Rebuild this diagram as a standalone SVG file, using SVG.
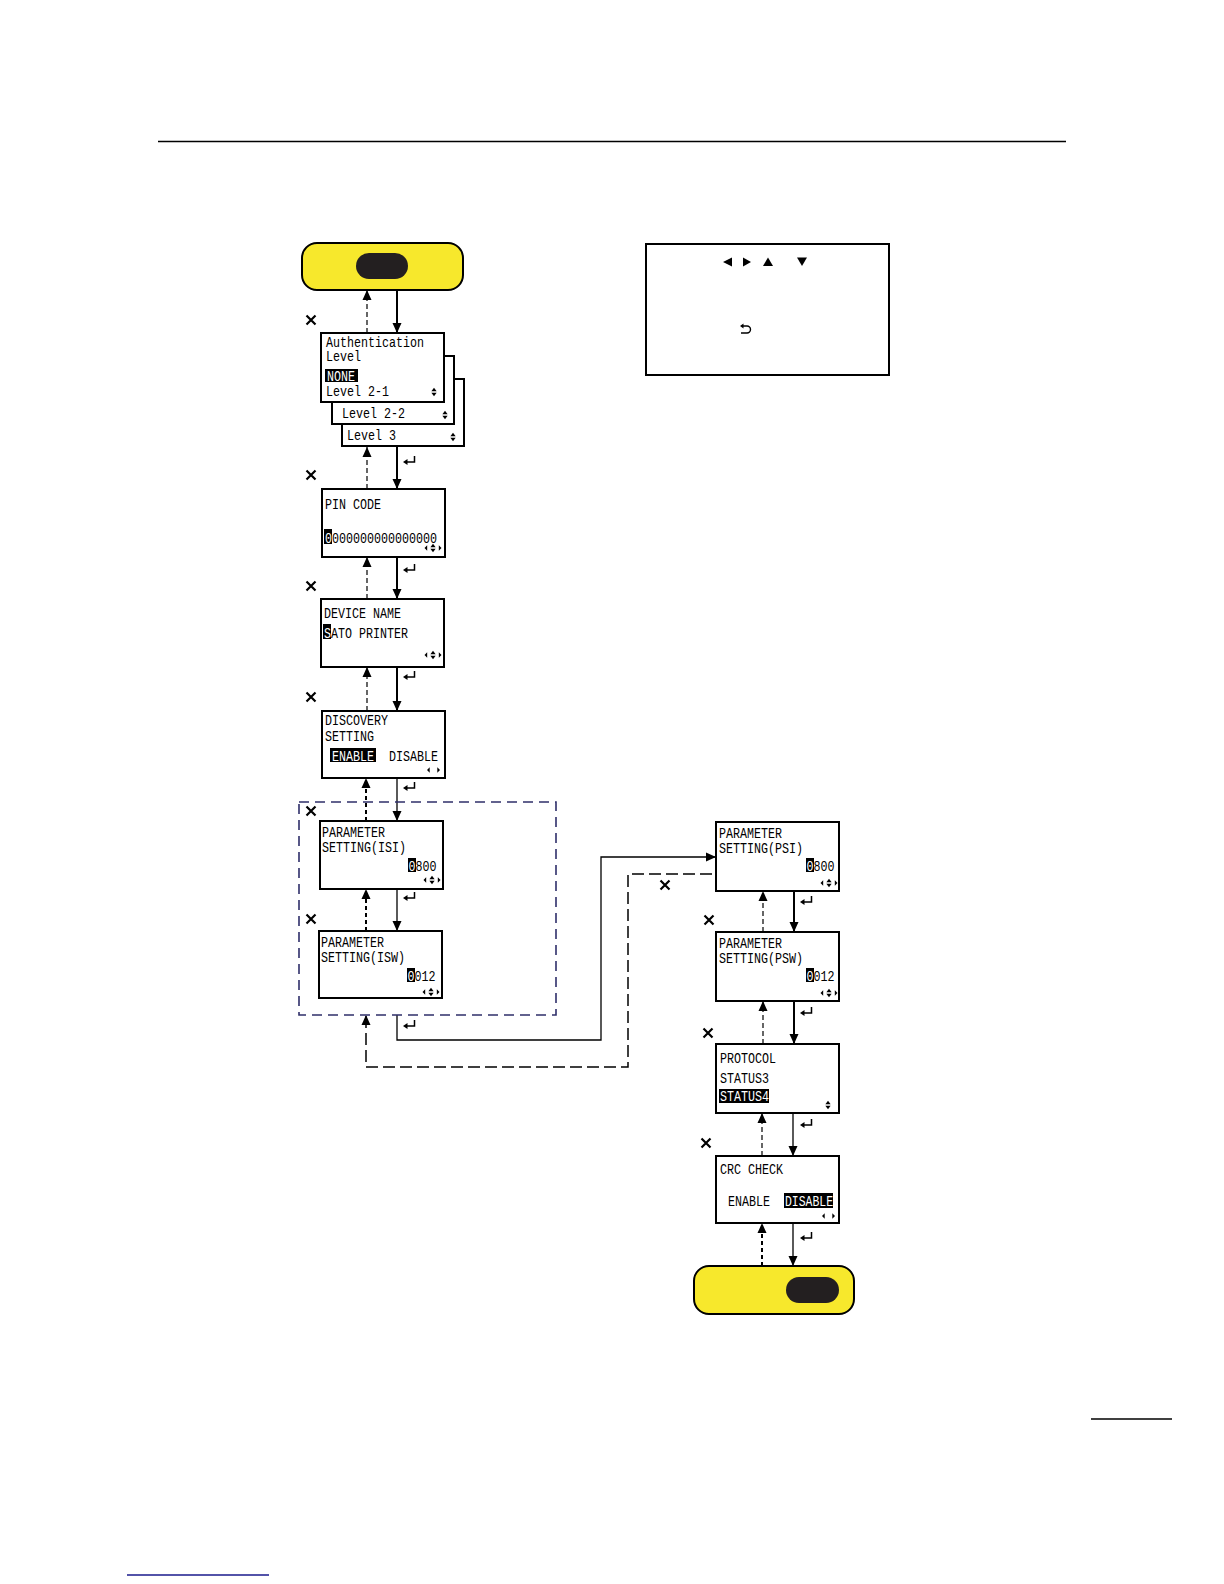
<svg xmlns="http://www.w3.org/2000/svg" width="1224" height="1584" viewBox="0 0 1224 1584">
<style>
.box{fill:#fff;stroke:#000;stroke-width:2}
.lcd{font-family:"Liberation Mono","DejaVu Sans Mono",monospace;font-size:14px;fill:#000}
.inv{fill:#fff}
.yel{fill:#f7e82c;stroke:#000;stroke-width:2}
.pill{fill:#231f20}
.solid{fill:none;stroke:#000;stroke-width:2}
.thin{fill:none;stroke:#000;stroke-width:1.3}
.dash{fill:none;stroke:#000;stroke-width:1.2;stroke-dasharray:5 3}
.bdash{fill:none;stroke:#000;stroke-width:2;stroke-dasharray:4 3}
.ldash{fill:none;stroke:#000;stroke-width:1.5;stroke-dasharray:12 5}
.grp{fill:none;stroke:#2f2f6a;stroke-width:1.6;stroke-dasharray:10 6}
.rule{stroke:#000;stroke-width:1.3}
</style>
<defs>
<marker id="ah" viewBox="0 0 10 10" refX="10" refY="5" markerWidth="10" markerHeight="10" markerUnits="userSpaceOnUse" orient="auto"><path d="M0,0.5 L10,5 L0,9.5 z" fill="#000"/></marker>
<g id="ret"><path d="M11.5,-6 V0 H3" fill="none" stroke="#000" stroke-width="1.5"/><polygon points="0,0 4.5,-3 4.5,3" fill="#000"/></g>
<g id="xm"><path d="M-4.5,-4.5 L4.5,4.5 M4.5,-4.5 L-4.5,4.5" stroke="#000" stroke-width="2.2"/></g>
<g id="ud"><polygon points="-2.6,-0.8 0,-4.2 2.6,-0.8"/><polygon points="-2.6,0.8 0,4.2 2.6,0.8"/></g>
<g id="lud"><polygon points="-8.5,0 -5.8,-2.8 -5.8,2.8"/><use href="#ud"/><polygon points="8.5,0 5.8,-2.8 5.8,2.8"/></g>
<g id="lr"><polygon points="-6.5,0 -3.8,-2.8 -3.8,2.8"/><polygon points="6.5,0 3.8,-2.8 3.8,2.8"/></g>
</defs>

<line class="rule" x1="158" y1="141.5" x2="1066" y2="141.5"/>
<line class="rule" x1="1091" y1="1419" x2="1172" y2="1419"/>
<line x1="127" y1="1575" x2="269" y2="1575" stroke="#1a1a8c" stroke-width="1.3"/>

<g id="legend">
<rect class="box" x="646" y="244" width="243" height="131"/>
<polygon points="723,262 732,257.5 732,266.5"/>
<polygon points="751,262 743,257.5 743,266.5"/>
<polygon points="768,257.5 763,266 773,266"/>
<polygon points="797,257.5 807,257.5 802,266"/>
<path d="M743,326 H747 A3.5,3.5 0 0 1 747,333 H741" fill="none" stroke="#000" stroke-width="1.4"/>
<polygon points="740,326 743.5,323.6 743.5,328.4"/>
</g>

<g id="connectors">
<path class="solid" d="M397,290 V333" marker-end="url(#ah)"/>
<path class="dash" d="M367,333 V290" marker-end="url(#ah)"/>
<path class="solid" d="M397,447 V489" marker-end="url(#ah)"/>
<path class="dash" d="M367,489 V447" marker-end="url(#ah)"/>
<path class="solid" d="M397,557 V599" marker-end="url(#ah)"/>
<path class="dash" d="M367,599 V557" marker-end="url(#ah)"/>
<path class="solid" d="M397,667 V711" marker-end="url(#ah)"/>
<path class="dash" d="M367,711 V667" marker-end="url(#ah)"/>
<path class="thin" d="M397,778 V821" marker-end="url(#ah)"/>
<path class="bdash" d="M366,821 V778" marker-end="url(#ah)"/>
<path class="thin" d="M397,889 V931" marker-end="url(#ah)"/>
<path class="bdash" d="M366,931 V889" marker-end="url(#ah)"/>
<path class="thin" d="M397,1015 V1040 H601 V857 H716" marker-end="url(#ah)"/>
<path class="ldash" d="M712,874 H628 V1067 H366 V1015" marker-end="url(#ah)"/>
<path class="solid" d="M794,891 V932" marker-end="url(#ah)"/>
<path class="dash" d="M763,932 V891" marker-end="url(#ah)"/>
<path class="solid" d="M794,1001 V1044" marker-end="url(#ah)"/>
<path class="dash" d="M763,1044 V1001" marker-end="url(#ah)"/>
<path class="thin" d="M793,1113 V1156" marker-end="url(#ah)"/>
<path class="dash" d="M762,1156 V1113" marker-end="url(#ah)"/>
<path class="thin" d="M793,1223 V1266" marker-end="url(#ah)"/>
<path class="bdash" d="M762,1266 V1223" marker-end="url(#ah)"/>
<use href="#ret" x="403" y="462"/>
<use href="#ret" x="403" y="570"/>
<use href="#ret" x="403" y="677"/>
<use href="#ret" x="403" y="788"/>
<use href="#ret" x="403" y="898"/>
<use href="#ret" x="403" y="1026"/>
<use href="#ret" x="800" y="902"/>
<use href="#ret" x="800" y="1013"/>
<use href="#ret" x="800" y="1125"/>
<use href="#ret" x="800" y="1238"/>
<use href="#xm" x="311" y="320"/>
<use href="#xm" x="311" y="475"/>
<use href="#xm" x="311" y="586"/>
<use href="#xm" x="311" y="697"/>
<use href="#xm" x="311" y="811"/>
<use href="#xm" x="311" y="919"/>
<use href="#xm" x="665" y="885"/>
<use href="#xm" x="709" y="920"/>
<use href="#xm" x="708" y="1033"/>
<use href="#xm" x="706" y="1143"/>
</g>

<g id="start">
<rect class="yel" x="302" y="243" width="161" height="47" rx="15"/>
<rect class="pill" x="356" y="253" width="52" height="26" rx="13"/>
</g>

<g id="auth">
<rect class="box" x="342" y="379" width="122" height="67"/>
<rect class="box" x="332" y="356" width="122" height="68"/>
<rect class="box" x="321" y="333" width="123" height="69"/>
<text class="lcd" x="326" y="347" textLength="98" lengthAdjust="spacingAndGlyphs">Authentication</text>
<text class="lcd" x="326" y="361" textLength="35" lengthAdjust="spacingAndGlyphs">Level</text>
<rect x="325" y="369" width="33" height="13"/>
<text class="lcd inv" x="327" y="381" textLength="28" lengthAdjust="spacingAndGlyphs">NONE</text>
<text class="lcd" x="326" y="396" textLength="63" lengthAdjust="spacingAndGlyphs">Level 2-1</text>
<use href="#ud" x="434" y="392"/>
<text class="lcd" x="342" y="418" textLength="63" lengthAdjust="spacingAndGlyphs">Level 2-2</text>
<use href="#ud" x="445" y="415"/>
<text class="lcd" x="347" y="440" textLength="49" lengthAdjust="spacingAndGlyphs">Level 3</text>
<use href="#ud" x="453" y="437"/>
</g>

<g id="pin">
<rect class="box" x="322" y="489" width="123" height="68"/>
<text class="lcd" x="325" y="509" textLength="56" lengthAdjust="spacingAndGlyphs">PIN CODE</text>
<rect x="324" y="529" width="8" height="15"/>
<text class="lcd inv" transform="translate(325,543) scale(0.833,1)">0</text>
<text class="lcd" x="332" y="543" textLength="105" lengthAdjust="spacingAndGlyphs">000000000000000</text>
<use href="#lud" x="433" y="548"/>
</g>

<g id="device">
<rect class="box" x="321" y="599" width="123" height="68"/>
<text class="lcd" x="324" y="618" textLength="77" lengthAdjust="spacingAndGlyphs">DEVICE NAME</text>
<rect x="323" y="624" width="8" height="15"/>
<text class="lcd inv" transform="translate(324,638) scale(0.833,1)">S</text>
<text class="lcd" x="331" y="638" textLength="77" lengthAdjust="spacingAndGlyphs">ATO PRINTER</text>
<use href="#lud" x="433" y="655"/>
</g>

<g id="discovery">
<rect class="box" x="322" y="711" width="123" height="67"/>
<text class="lcd" x="325" y="725" textLength="63" lengthAdjust="spacingAndGlyphs">DISCOVERY</text>
<text class="lcd" x="325" y="741" textLength="49" lengthAdjust="spacingAndGlyphs">SETTING</text>
<rect x="330" y="748" width="46" height="14"/>
<text class="lcd inv" x="332" y="761" textLength="42" lengthAdjust="spacingAndGlyphs">ENABLE</text>
<text class="lcd" x="389" y="761" textLength="49" lengthAdjust="spacingAndGlyphs">DISABLE</text>
<use href="#lr" x="433.5" y="770"/>
</g>

<g id="group-ip">
<rect class="grp" x="299" y="802" width="257" height="213"/>
</g>

<g id="isi">
<rect class="box" x="320" y="821" width="123" height="68"/>
<text class="lcd" x="322" y="837" textLength="63" lengthAdjust="spacingAndGlyphs">PARAMETER</text>
<text class="lcd" x="322" y="852" textLength="84" lengthAdjust="spacingAndGlyphs">SETTING(ISI)</text>
<rect x="408" y="858" width="8" height="14"/>
<text class="lcd inv" transform="translate(408.5,871) scale(0.833,1)">0</text>
<text class="lcd" x="415.5" y="871" textLength="21" lengthAdjust="spacingAndGlyphs">800</text>
<use href="#lud" x="432" y="880"/>
</g>

<g id="isw">
<rect class="box" x="319" y="931" width="123" height="67"/>
<text class="lcd" x="321" y="947" textLength="63" lengthAdjust="spacingAndGlyphs">PARAMETER</text>
<text class="lcd" x="321" y="962" textLength="84" lengthAdjust="spacingAndGlyphs">SETTING(ISW)</text>
<rect x="407" y="968" width="8" height="14"/>
<text class="lcd inv" transform="translate(407.5,981) scale(0.833,1)">0</text>
<text class="lcd" x="414.5" y="981" textLength="21" lengthAdjust="spacingAndGlyphs">012</text>
<use href="#lud" x="431" y="992"/>
</g>

<g id="psi">
<rect class="box" x="716" y="822" width="123" height="69"/>
<text class="lcd" x="719" y="838" textLength="63" lengthAdjust="spacingAndGlyphs">PARAMETER</text>
<text class="lcd" x="719" y="853" textLength="84" lengthAdjust="spacingAndGlyphs">SETTING(PSI)</text>
<rect x="806" y="858" width="8" height="14"/>
<text class="lcd inv" transform="translate(806.5,871) scale(0.833,1)">0</text>
<text class="lcd" x="813.5" y="871" textLength="21" lengthAdjust="spacingAndGlyphs">800</text>
<use href="#lud" x="829" y="883"/>
</g>

<g id="psw">
<rect class="box" x="716" y="932" width="123" height="69"/>
<text class="lcd" x="719" y="948" textLength="63" lengthAdjust="spacingAndGlyphs">PARAMETER</text>
<text class="lcd" x="719" y="963" textLength="84" lengthAdjust="spacingAndGlyphs">SETTING(PSW)</text>
<rect x="806" y="968" width="8" height="14"/>
<text class="lcd inv" transform="translate(806.5,981) scale(0.833,1)">0</text>
<text class="lcd" x="813.5" y="981" textLength="21" lengthAdjust="spacingAndGlyphs">012</text>
<use href="#lud" x="829" y="993"/>
</g>

<g id="protocol">
<rect class="box" x="716" y="1044" width="123" height="69"/>
<text class="lcd" x="720" y="1063" textLength="56" lengthAdjust="spacingAndGlyphs">PROTOCOL</text>
<text class="lcd" x="720" y="1083" textLength="49" lengthAdjust="spacingAndGlyphs">STATUS3</text>
<rect x="719" y="1089" width="50" height="14"/>
<text class="lcd inv" x="720" y="1101" textLength="49" lengthAdjust="spacingAndGlyphs">STATUS4</text>
<use href="#ud" x="828" y="1105"/>
</g>

<g id="crc">
<rect class="box" x="716" y="1156" width="123" height="67"/>
<text class="lcd" x="720" y="1174" textLength="63" lengthAdjust="spacingAndGlyphs">CRC CHECK</text>
<text class="lcd" x="728" y="1206" textLength="42" lengthAdjust="spacingAndGlyphs">ENABLE</text>
<rect x="784" y="1193" width="49" height="15"/>
<text class="lcd inv" x="785" y="1206" textLength="48" lengthAdjust="spacingAndGlyphs">DISABLE</text>
<use href="#lr" x="828.5" y="1216"/>
</g>

<g id="end">
<rect class="yel" x="694" y="1266" width="160" height="48" rx="15"/>
<rect class="pill" x="786" y="1277" width="53" height="26" rx="13"/>
</g>
</svg>
